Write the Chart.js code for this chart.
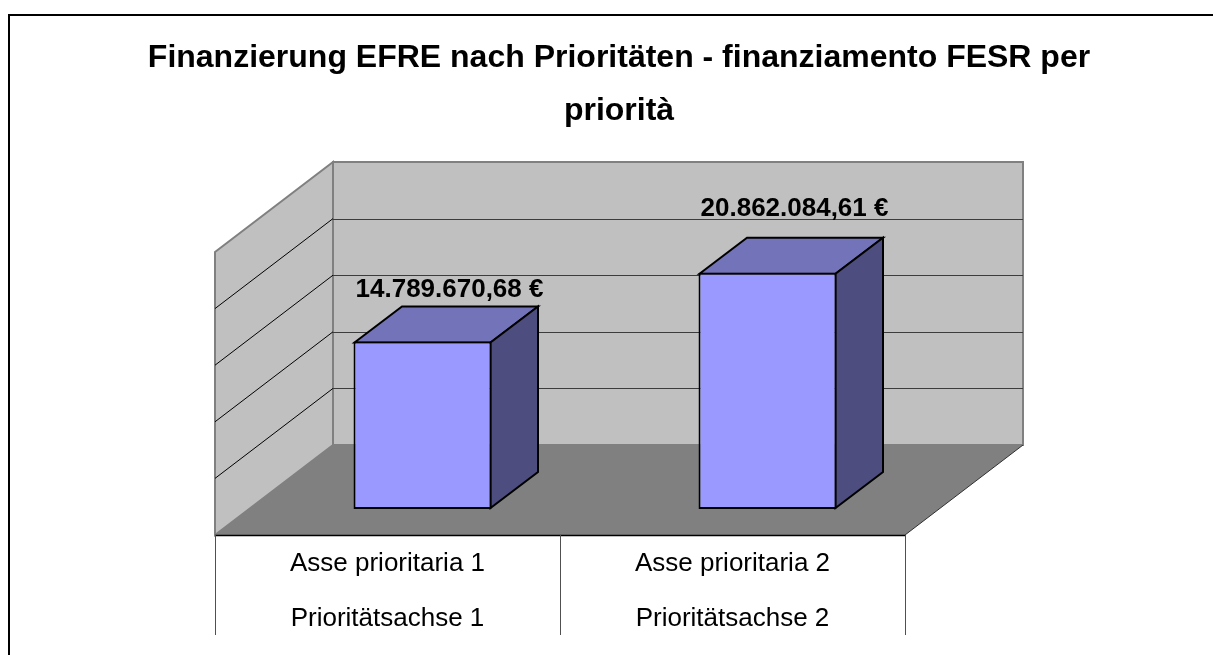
<!DOCTYPE html>
<html>
<head>
<meta charset="utf-8">
<style>
  html, body { margin: 0; padding: 0; background: #fff; overflow: hidden; }
  canvas { display: block; }
</style>
<script src="https://cdn.jsdelivr.net/npm/chart.js@4/dist/chart.umd.min.js"></script>
</head>
<body>
<canvas id="chart" width="1213" height="655"></canvas>
<script>
const titleLines = ['Finanzierung EFRE nach Prioritäten - finanziamento FESR per', 'priorità'];
const categories = [
  ['Asse prioritaria 1', 'Prioritätsachse 1'],
  ['Asse prioritaria 2', 'Prioritätsachse 2'],
];
const fundingValues = [14789670.68, 20862084.61];
const valueLabels = ['14.789.670,68 €', '20.862.084,61 €'];

const FONT = '"Liberation Sans", Arial, sans-serif';

// 3D look: how far the walls and bars are pushed away from the value plane
const FRONT = { dx: -35, dy: 26 };
const BACK = { dx: 83, dy: -64 };
const BAR_DEPTH = { dx: 47.5, dy: -36 };
const TABLE_BOTTOM = 635;
// Excel placed the two labels at different heights above the bars
const LABEL_LIFT = [16, 28];
const LABEL_SHIFT = 27;

function poly(ctx, pts, fill, stroke, width) {
  ctx.beginPath();
  pts.forEach((p, i) => (i ? ctx.lineTo(p[0], p[1]) : ctx.moveTo(p[0], p[1])));
  ctx.closePath();
  if (fill) {
    ctx.fillStyle = fill;
    ctx.fill();
  }
  if (stroke) {
    ctx.strokeStyle = stroke;
    ctx.lineWidth = width;
    ctx.stroke();
  }
}

function line(ctx, x1, y1, x2, y2, color, width) {
  ctx.beginPath();
  ctx.moveTo(x1, y1);
  ctx.lineTo(x2, y2);
  ctx.strokeStyle = color;
  ctx.lineWidth = width;
  ctx.stroke();
}

const box3d = {
  id: 'box3d',
  afterLayout(chart) {
    // title is centred on the whole frame, and would be squeezed to the plot width otherwise
    chart.titleBlock.left = 0;
    chart.titleBlock.right = 1238;
  },
  beforeDraw(chart) {
    const ctx = chart.ctx;
    ctx.save();
    // frame runs off the right and bottom of the page
    ctx.strokeStyle = '#000';
    ctx.lineWidth = 2;
    ctx.strokeRect(9, 15, 1400, 900);
    ctx.restore();
  },
  beforeDatasetsDraw(chart) {
    const ctx = chart.ctx;
    const { left, right } = chart.chartArea;
    const y = chart.scales.y;
    const top = y.getPixelForValue(y.max);
    const base = y.getPixelForValue(0);

    const fl = left + FRONT.dx, fr = right + FRONT.dx, fb = base + FRONT.dy, ft = top + FRONT.dy;
    const bl = left + BACK.dx, br = right + BACK.dx, bb = base + BACK.dy, bt = top + BACK.dy;

    ctx.save();
    ctx.lineJoin = 'miter';

    // walls
    poly(ctx, [[fl, ft], [bl, bt], [bl, bb], [fl, fb]], '#c0c0c0', '#808080', 2);
    poly(ctx, [[bl, bt], [br, bt], [br, bb], [bl, bb]], '#c0c0c0', '#808080', 2);

    // gridlines, skipping the floor and the top edge
    y.ticks.forEach((tick) => {
      if (tick.value === y.min || tick.value === y.max) return;
      const py = y.getPixelForValue(tick.value);
      line(ctx, fl, py + FRONT.dy, bl, py + BACK.dy, '#000', 1);
      line(ctx, bl, Math.round(py + BACK.dy) + 0.5, br, Math.round(py + BACK.dy) + 0.5, '#3c3c3c', 1.2);
    });

    // floor
    poly(ctx, [[fl, fb], [bl, bb], [br, bb], [fr, fb]], '#808080');
    line(ctx, fr, fb, br, bb, '#303030', 1);

    // table under the floor
    line(ctx, fl, fb + 0.5, fr, fb + 0.5, '#000', 1.4);
    [fl, (fl + fr) / 2, fr].forEach((x) => {
      line(ctx, x + 0.5, fb, x + 0.5, TABLE_BOTTOM, '#505050', 1);
    });

    // bar depth faces, the fronts come from the library
    chart.getDatasetMeta(0).data.forEach((bar) => {
      const l = bar.x - bar.width / 2 + 1, r = bar.x + bar.width / 2 - 1;
      const t = bar.y + 1, b = bar.base - 1;
      const d = BAR_DEPTH;
      poly(ctx, [[l, t], [l + d.dx, t + d.dy], [r + d.dx, t + d.dy], [r, t]], '#7373b9', '#000', 2);
      poly(ctx, [[r, t], [r + d.dx, t + d.dy], [r + d.dx, b + d.dy], [r, b]], '#4d4d80', '#000', 2);
    });
    ctx.restore();
  },
  afterDatasetsDraw(chart) {
    const ctx = chart.ctx;
    ctx.save();
    ctx.fillStyle = '#000';
    ctx.font = 'bold 26px ' + FONT;
    ctx.textAlign = 'center';
    ctx.textBaseline = 'middle';
    chart.getDatasetMeta(0).data.forEach((bar, i) => {
      ctx.fillText(valueLabels[i], bar.x + LABEL_SHIFT, bar.y + BAR_DEPTH.dy - LABEL_LIFT[i]);
    });
    ctx.restore();
  },
};

new Chart(document.getElementById('chart'), {
  type: 'bar',
  data: {
    labels: categories,
    datasets: [{
      data: fundingValues,
      backgroundColor: '#9999ff',
      borderColor: '#000',
      borderWidth: 2,
      borderSkipped: false,
      barPercentage: 0.4,
      categoryPercentage: 1,
    }],
  },
  options: {
    responsive: false,
    animation: false,
    layout: { padding: { left: 250, right: 273, top: 0, bottom: 0 } },
    plugins: {
      legend: { display: false },
      tooltip: { enabled: false },
      title: {
        display: true,
        text: titleLines,
        color: '#000',
        font: { family: FONT, size: 32, weight: 'bold', lineHeight: 1.656 },
        padding: { top: 32, bottom: 88 },
      },
    },
    scales: {
      x: {
        afterFit(scale) { scale.height = 146; },
        grid: { display: false },
        border: { display: false },
        ticks: {
          autoSkip: false,
          maxRotation: 0,
          color: '#000',
          padding: 19,
          labelOffset: -35,
          font: { family: FONT, size: 26, lineHeight: 2.115 },
        },
      },
      y: {
        display: false,
        min: 0,
        max: 25000000,
        ticks: { stepSize: 5000000 },
      },
    },
  },
  plugins: [box3d],
});
</script>
</body>
</html>
